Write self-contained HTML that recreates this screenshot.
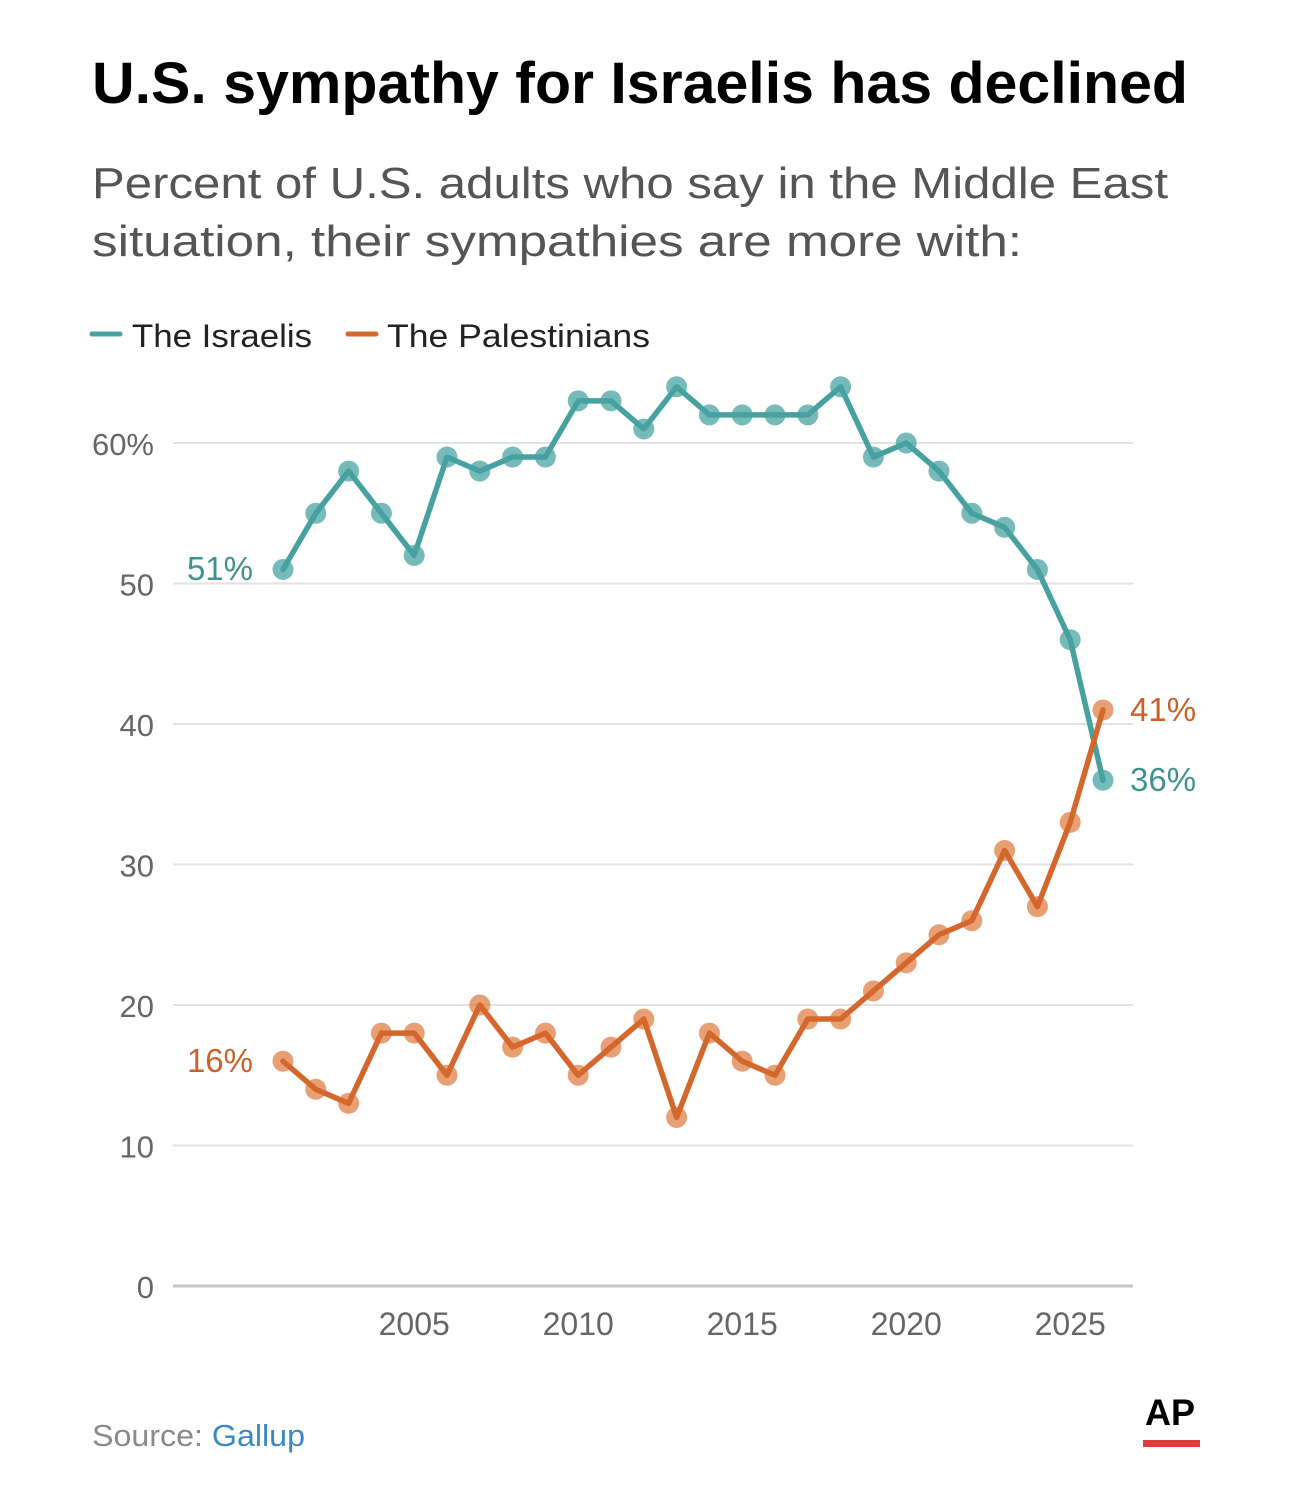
<!DOCTYPE html>
<html>
<head>
<meta charset="utf-8">
<style>
  html, body { margin: 0; padding: 0; background: #ffffff; }
  svg { display: block; }
  text { font-family: "Liberation Sans", "DejaVu Sans", sans-serif; }
</style>
</head>
<body>
<svg id="chart" width="1290" height="1493" viewBox="0 0 1290 1493" xmlns="http://www.w3.org/2000/svg">
  <rect x="0" y="0" width="1290" height="1493" fill="#ffffff"/>

  <!-- Title -->
  <text x="92" y="103" font-size="58" font-weight="bold" fill="#000" textLength="1096" lengthAdjust="spacingAndGlyphs">U.S. sympathy for Israelis has declined</text>

  <!-- Subtitle -->
  <text x="92" y="198" font-size="44" fill="#545557" textLength="1076" lengthAdjust="spacingAndGlyphs">Percent of U.S. adults who say in the Middle East</text>
  <text x="92" y="256" font-size="44" fill="#545557" textLength="930" lengthAdjust="spacingAndGlyphs">situation, their sympathies are more with:</text>

  <!-- Legend -->
  <line x1="92" y1="334" x2="120" y2="334" stroke="#4aa3a3" stroke-width="5" stroke-linecap="round"/>
  <text x="132" y="347" font-size="32" fill="#222" textLength="180" lengthAdjust="spacingAndGlyphs">The Israelis</text>
  <line x1="348" y1="334" x2="376" y2="334" stroke="#d4682c" stroke-width="5" stroke-linecap="round"/>
  <text x="387" y="347" font-size="32" fill="#222" textLength="263" lengthAdjust="spacingAndGlyphs">The Palestinians</text>

  <!-- Grid lines -->
  <g stroke="#e2e2e2" stroke-width="2">
    <line x1="173" y1="443" x2="1133" y2="443"/>
    <line x1="173" y1="583.5" x2="1133" y2="583.5"/>
    <line x1="173" y1="724" x2="1133" y2="724"/>
    <line x1="173" y1="864.5" x2="1133" y2="864.5"/>
    <line x1="173" y1="1005" x2="1133" y2="1005"/>
    <line x1="173" y1="1145.5" x2="1133" y2="1145.5"/>
  </g>
  <line x1="173" y1="1286" x2="1133" y2="1286" stroke="#c4c4c4" stroke-width="3"/>

  <!-- Y tick labels -->
  <g font-size="31" fill="#666" text-anchor="end">
    <text x="154" y="455">60%</text>
    <text x="154" y="595.5">50</text>
    <text x="154" y="736">40</text>
    <text x="154" y="876.5">30</text>
    <text x="154" y="1017">20</text>
    <text x="154" y="1157.5">10</text>
    <text x="154" y="1298">0</text>
  </g>

  <!-- X tick labels -->
  <g font-size="32" fill="#666" text-anchor="middle">
    <text x="414.2" y="1335">2005</text>
    <text x="578.2" y="1335">2010</text>
    <text x="742.2" y="1335">2015</text>
    <text x="906.2" y="1335">2020</text>
    <text x="1070.2" y="1335">2025</text>
  </g>

  <!-- Series -->
  <g id="tealDots" fill="#4aa3a3" fill-opacity="0.75"></g>
  <g id="orangeDots" fill="#e07f45" fill-opacity="0.75"></g>
  <path id="tealLine" fill="none" stroke="#48a1a1" stroke-width="5.5" stroke-linejoin="round" stroke-linecap="round" d=""/>
  <path id="orangeLine" fill="none" stroke="#d4682c" stroke-width="5.5" stroke-linejoin="round" stroke-linecap="round" d=""/>

  <!-- Data labels -->
  <text x="253" y="580" font-size="33" fill="#3f9192" text-anchor="end">51%</text>
  <text x="253" y="1072" font-size="33" fill="#c9622a" text-anchor="end">16%</text>
  <text x="1130" y="721" font-size="33" fill="#c9622a">41%</text>
  <text x="1130" y="791" font-size="33" fill="#3f9192">36%</text>

  <!-- Source -->
  <text x="92" y="1446" font-size="31" fill="#8a8a8a" textLength="213" lengthAdjust="spacingAndGlyphs">Source: <tspan fill="#3b87c8">Gallup</tspan></text>

  <!-- AP logo -->
  <text x="1145" y="1425" font-size="37" font-weight="bold" fill="#000" textLength="50" lengthAdjust="spacingAndGlyphs">AP</text>
  <rect x="1143" y="1440" width="57" height="7" fill="#e03a3a"/>
</svg>

<script>
(function(){
  var isr = [51,55,58,55,52,59,58,59,59,63,63,61,64,62,62,62,62,64,59,60,58,55,54,51,46,36];
  var pal = [16,14,13,18,18,15,20,17,18,15,17,19,12,18,16,15,19,19,21,23,25,26,31,27,33,41];
  function X(i){ return 283 + i*32.8; }
  function Y(v){ return 1286 - v*14.05; }
  function linePath(vals){
    var d = "";
    for(var i=0;i<vals.length;i++){
      d += (i ? "L" : "M") + X(i).toFixed(2) + "," + Y(vals[i]).toFixed(2);
    }
    return d;
  }
  function dots(gid, vals){
    var g = document.getElementById(gid), ns = "http://www.w3.org/2000/svg";
    for(var i=0;i<vals.length;i++){
      var c = document.createElementNS(ns, "circle");
      c.setAttribute("cx", X(i)); c.setAttribute("cy", Y(vals[i])); c.setAttribute("r", 10.5);
      g.appendChild(c);
    }
  }
  dots("tealDots", isr);
  dots("orangeDots", pal);
  document.getElementById("tealLine").setAttribute("d", linePath(isr));
  document.getElementById("orangeLine").setAttribute("d", linePath(pal));
})();
</script>
</body>
</html>
